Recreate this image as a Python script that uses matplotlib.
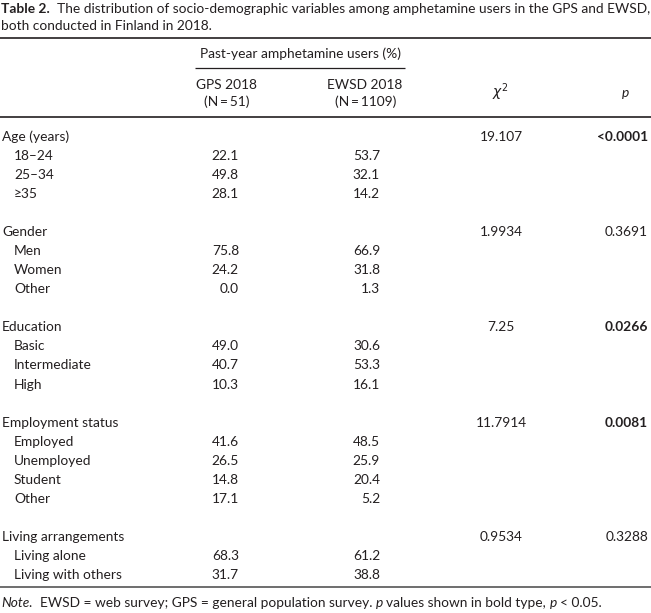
import matplotlib
matplotlib.use("Agg")
import matplotlib.pyplot as plt

plt.rcParams['font.family'] = ['Lato', 'DejaVu Sans']

# table content
groups = ['Age (years)', 'Gender', 'Education', 'Employment status', 'Living arrangements']
subgroups = [
    ['18–24', '25–34', '≥35'],
    ['Men', 'Women', 'Other'],
    ['Basic', 'Intermediate', 'High'],
    ['Employed', 'Unemployed', 'Student', 'Other'],
    ['Living alone', 'Living with others'],
]
gps = [
    [22.1, 49.8, 28.1],
    [75.8, 24.2, 0.0],
    [49.0, 40.7, 10.3],
    [41.6, 26.5, 14.8, 17.1],
    [68.3, 31.7],
]
ewsd = [
    [53.7, 32.1, 14.2],
    [66.9, 31.8, 1.3],
    [30.6, 53.3, 16.1],
    [48.5, 25.9, 20.4, 5.2],
    [61.2, 38.8],
]
chi2 = ['19.107', '1.9934', '7.25', '11.7914', '0.9534']
pvals = ['<0.0001', '0.3691', '0.0266', '0.0081', '0.3288']
p_bold = [True, False, True, True, False]

W, H = 651, 613
fig = plt.figure(figsize=(W / 100, H / 100), dpi=100)
ax = fig.add_axes([0, 0, 1, 1])
ax.set_xlim(0, W)
ax.set_ylim(H, 0)
ax.axis('off')

col = '#231f20'
fs = 9.9
renderer = fig.canvas.get_renderer()


def width(s, size):
    t = ax.text(0, 0, s, fontsize=size)
    w = t.get_window_extent(renderer).width
    t.remove()
    return w


def runs(x, y, parts, size):
    gap = width('a a', size) - width('aa', size)
    arts = []
    for s, kw in parts:
        if s == ' ':
            x += gap
            continue
        t = ax.text(x, y, s, fontsize=size, color=col, va='center', ha='left', **kw)
        arts.append(t)
        x += t.get_window_extent(renderer).width
    return x, arts


# title, sized so the first line spans the full width
title1 = [('Table 2.', dict(fontweight='bold')), (' ', {}), (' ', {}),
          ('The distribution of socio-demographic variables among amphetamine users in the GPS and EWSD,', {})]
end, arts = runs(1, 9, title1, 10)
for a in arts:
    a.remove()
fs_title = 10 * (W - 2) / end
runs(1, 9, title1, fs_title)
runs(1, 26, [('both conducted in Finland in 2018.', {})], fs_title)

# rules
ax.plot([0, W], [38, 38], color=col, lw=1.2, solid_capstyle='butt')
ax.plot([195, 405], [68, 68], color=col, lw=0.9, solid_capstyle='butt')
ax.plot([0, W], [117, 117], color=col, lw=1.2, solid_capstyle='butt')
ax.plot([0, W], [587, 587], color='#555555', lw=1.2, solid_capstyle='butt')

# header
ax.text(300, 54, 'Past-year amphetamine users (%)', fontsize=fs, color=col, ha='center', va='center')
ax.text(226, 85, 'GPS 2018', fontsize=fs, color=col, ha='center', va='center')
ax.text(227, 102, '(N\u2009=\u200951)', fontsize=fs, color=col, ha='center', va='center')
ax.text(365, 85, 'EWSD 2018', fontsize=fs, color=col, ha='center', va='center')
ax.text(366, 102, '(N\u2009=\u20091109)', fontsize=fs, color=col, ha='center', va='center')
ax.text(500, 92, r'$\chi^2$', fontsize=fs, color=col, ha='center', va='center')
ax.text(625, 93, 'p', fontsize=fs, color=col, ha='center', va='center', fontstyle='italic')

# body
y0, pitch = 137, 19.04
row = 0
for g, subs, gv, ev, c, p, b in zip(groups, subgroups, gps, ewsd, chi2, pvals, p_bold):
    y = y0 + row * pitch
    ax.text(2, y, g, fontsize=fs, color=col, va='center')
    ax.text(501, y, c, fontsize=fs, color=col, va='center', ha='center')
    ax.text(648, y, p, fontsize=fs, color=col, va='center', ha='right',
            fontweight='bold' if b else 'normal')
    row += 1
    for s, a, e in zip(subs, gv, ev):
        y = y0 + row * pitch
        ax.text(14, y, s, fontsize=fs, color=col, va='center')
        ax.text(239, y, f'{a:.1f}', fontsize=fs, color=col, va='center', ha='right')
        ax.text(380, y, f'{e:.1f}', fontsize=fs, color=col, va='center', ha='right')
        row += 1
    row += 1

# note
runs(1, 603, [('Note.', dict(fontstyle='italic')), (' ', {}), (' ', {}),
              ('EWSD = web survey; GPS = general population survey.', {}), (' ', {}),
              ('p', dict(fontstyle='italic')), (' ', {}),
              ('values shown in bold type,', {}), (' ', {}),
              ('p', dict(fontstyle='italic')), (' ', {}), ('< 0.05.', {})], fs)

fig.savefig('out.png', dpi=100)
